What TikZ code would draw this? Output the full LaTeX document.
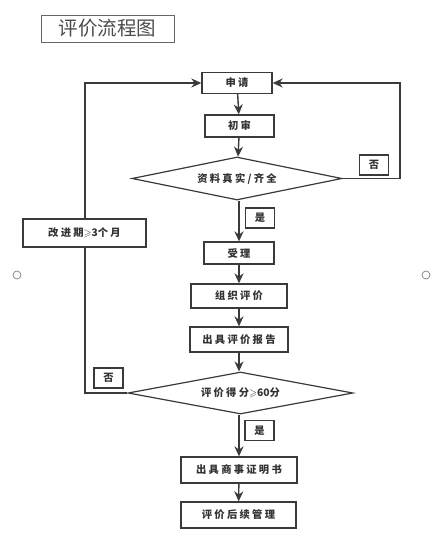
\documentclass[tikz,border=0pt]{standalone}
\usepackage{amsmath,amssymb}
\usepackage{fontspec}
\newfontfamily\cjk{Noto Sans CJK SC}
\newfontfamily\cjkb[LetterSpace=22]{Noto Sans CJK SC}
\usetikzlibrary{arrows.meta,shapes.geometric}
\definecolor{ln}{HTML}{3a3a3a}
\definecolor{tx}{HTML}{333333}
\newcommand{\numtxt}[1]{{\cjk\bfseries #1}}
\tikzset{
  box/.style={draw=ln,line width=1.3pt,minimum height=21pt,inner sep=0pt,text=tx,font=\cjkb\bfseries\fontsize{10.3}{10.3}\selectfont},
  lab/.style={draw=ln,line width=1.3pt,minimum width=29pt,minimum height=20pt,inner sep=0pt,text=tx,font=\cjkb\bfseries\fontsize{10.3}{10.3}\selectfont},
  dia/.style={draw=ln,line width=1.2pt,diamond,aspect=4.9,inner sep=0pt,text=tx,font=\cjkb\bfseries\fontsize{10.3}{10.3}\selectfont},
  conn/.style={draw=ln,line width=1.4pt,-{Stealth[length=10pt,width=9pt]}},
  plain/.style={draw=ln,line width=1.4pt}
}
\begin{document}
\begin{tikzpicture}[x=1pt,y=-1pt]
\fill[white] (0,0) rectangle (439,547);
\useasboundingbox (0,0) rectangle (439,547);
% title
\node[draw=gray!80!black,line width=0.9pt,minimum width=133pt,minimum height=27pt,inner sep=0pt,text=black!70,font=\cjk\fontsize{19.5}{19.5}\selectfont] (title) at (107.5,28.5) {评价流程图};
% main column
\node[box,minimum width=70pt] (sq) at (237,83) {申请};
\node[box,minimum width=69pt,minimum height=22pt] (cs) at (239.5,126) {初审};
\node[dia,minimum width=210pt,minimum height=43pt] (d1) at (237,178.5) {资料真实/齐全};
\node[box,minimum width=70pt,minimum height=22pt] (sl) at (239,253) {受理};
\node[box,minimum width=96pt,minimum height=24pt] (zz) at (239,296) {组织评价};
\node[box,minimum width=98pt,minimum height=25pt] (bg) at (239,339.5) {出具评价报告};
\node[dia,minimum width=225pt,minimum height=42pt] (d2) at (240.5,393) {评价得分\numtxt{$\boldsymbol{\geqslant}$60}分};
\node[box,minimum width=116pt,minimum height=26pt] (zm) at (239,470) {出具商事证明书};
\node[box,minimum width=115pt,minimum height=26pt] (hx) at (238.5,515) {评价后续管理};
% labels
\node[lab] (no1) at (374,165) {否};
\node[lab] (yes1) at (260,218) {是};
\node[lab] (no2) at (108.5,378) {否};
\node[lab] (yes2) at (259.5,430.5) {是};
\node[box,minimum width=123pt,minimum height=28pt] (gj) at (84.5,233) {改进期\numtxt{$\boldsymbol{\geqslant}$3}个月};
% coordinates
\coordinate (r1) at (400,178.5);
\coordinate (r2) at (400,83);
\coordinate (l1) at (85,393);
\coordinate (l2) at (85,83);
% connectors
\draw[conn] (sq) -- (cs);
\draw[conn] (cs) -- (d1);
\draw[conn] (d1.south -| sl) -- (sl);
\draw[conn] (sl) -- (zz);
\draw[conn] (zz) -- (bg);
\draw[conn] (bg) -- (bg |- d2.north);
\draw[conn] (d2.south -| zm) -- (zm);
\draw[conn] (zm) -- (hx);
\draw[conn] (d1.east) -- (r1) -- (r2) -- (sq.east);
\draw[plain] (d2.west) -- (l1) -- (gj.south -| l1);
\draw[conn] (gj.north -| l2) -- (l2) -- (sq.west);
% side circles
\draw[gray,line width=0.7pt] (17,275) circle (4pt);
\draw[gray,line width=0.7pt] (426,275) circle (4pt);
\end{tikzpicture}
\end{document}
